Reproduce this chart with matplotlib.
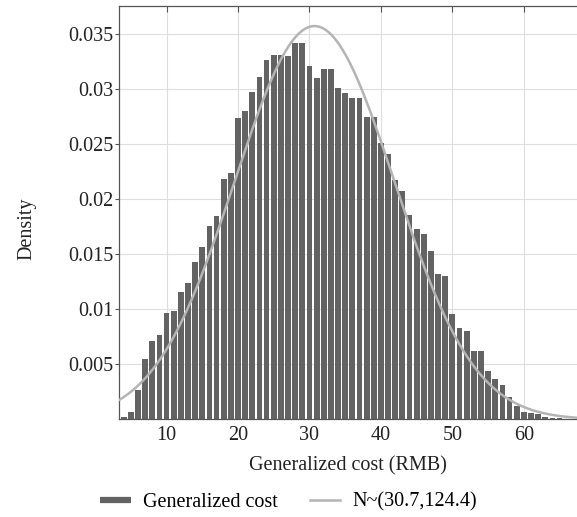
import numpy as np
import matplotlib
matplotlib.use("Agg")
import matplotlib.pyplot as plt
from matplotlib.lines import Line2D

plt.rcParams['font.family'] = ['Liberation Serif', 'DejaVu Serif']

# histogram of generalized cost, bins of width 1 centred on 4..67
bin_centers = np.arange(4, 68)
density = [0.0002, 0.0007, 0.0027, 0.0055, 0.0071, 0.0077, 0.0097, 0.0099,
           0.0116, 0.0124, 0.0143, 0.0157, 0.0176, 0.0185, 0.0219, 0.0224,
           0.0274, 0.0280, 0.0298, 0.0311, 0.0327, 0.0331, 0.0331, 0.0330,
           0.0342, 0.0342, 0.0321, 0.0310, 0.0319, 0.0319, 0.0301, 0.0297,
           0.0292, 0.0292, 0.0275, 0.0275, 0.0251, 0.0241, 0.0218, 0.0208,
           0.0186, 0.0173, 0.0169, 0.0153, 0.0132, 0.0130, 0.0096, 0.0083,
           0.0080, 0.0062, 0.0062, 0.0044, 0.0037, 0.0031, 0.0020, 0.0012,
           0.0007, 0.0006, 0.0005, 0.00025, 0.00015, 0.0001, 0.00007, 0.00005]

# fitted normal N~(mean, variance)
mu = 30.7
var = 124.4

xticks = [10, 20, 30, 40, 50, 60]
yticks = [0.005, 0.01, 0.015, 0.02, 0.025, 0.03, 0.035]
ytick_labels = ['0.005', '0.01', '0.015', '0.02', '0.025', '0.03', '0.035']

bar_color = '#636363'
line_color = '#b4b4b4'

fig = plt.figure(figsize=(5.77, 5.17), dpi=100)
ax = fig.add_axes([0.2057, 0.1886, 0.7963, 0.8])

ax.bar(bin_centers, density, width=0.81, color=bar_color, zorder=2)

xs = np.linspace(3.3, 67.6, 400)
pdf = np.exp(-(xs - mu) ** 2 / (2 * var)) / np.sqrt(2 * np.pi * var)
ax.plot(xs, pdf, color=line_color, lw=1.8, zorder=3)

ax.set_xlim(3.3, 67.6)
ax.set_ylim(0, 0.0376)
ax.set_xticks(xticks)
ax.set_yticks(yticks)
ax.set_yticklabels(ytick_labels)
ax.grid(True, color='#dedede', lw=0.8, zorder=0)
ax.set_axisbelow(True)

for s in ax.spines.values():
    s.set_color('#555555')
    s.set_linewidth(0.9)

ax.tick_params(axis='both', labelsize=14.5, colors='#222222')
ax.tick_params(axis='y', direction='out', length=3, pad=1, color='#555555')
ax.tick_params(axis='x', direction='in', length=4, pad=5, color='#555555', top=True)
ax.tick_params(axis='y', right=True)

ax.set_xlabel('Generalized cost (RMB)', fontsize=14.5, color='#222222', labelpad=8)
ax.set_ylabel('Density', fontsize=14.5, color='#222222')
ax.yaxis.set_label_coords(-0.18, 0.46)

handles = [Line2D([], [], color=bar_color, lw=4.5, solid_capstyle='butt'),
           Line2D([], [], color=line_color, lw=1.8)]
fig.legend(handles, ['Generalized cost', 'N~(30.7,124.4)'], loc='center',
           bbox_to_anchor=(0.5, 0.029), ncol=2, frameon=False, fontsize=14.5,
           handlelength=1.5, columnspacing=1.6, handletextpad=0.6)

fig.savefig('out.png', dpi=100)
